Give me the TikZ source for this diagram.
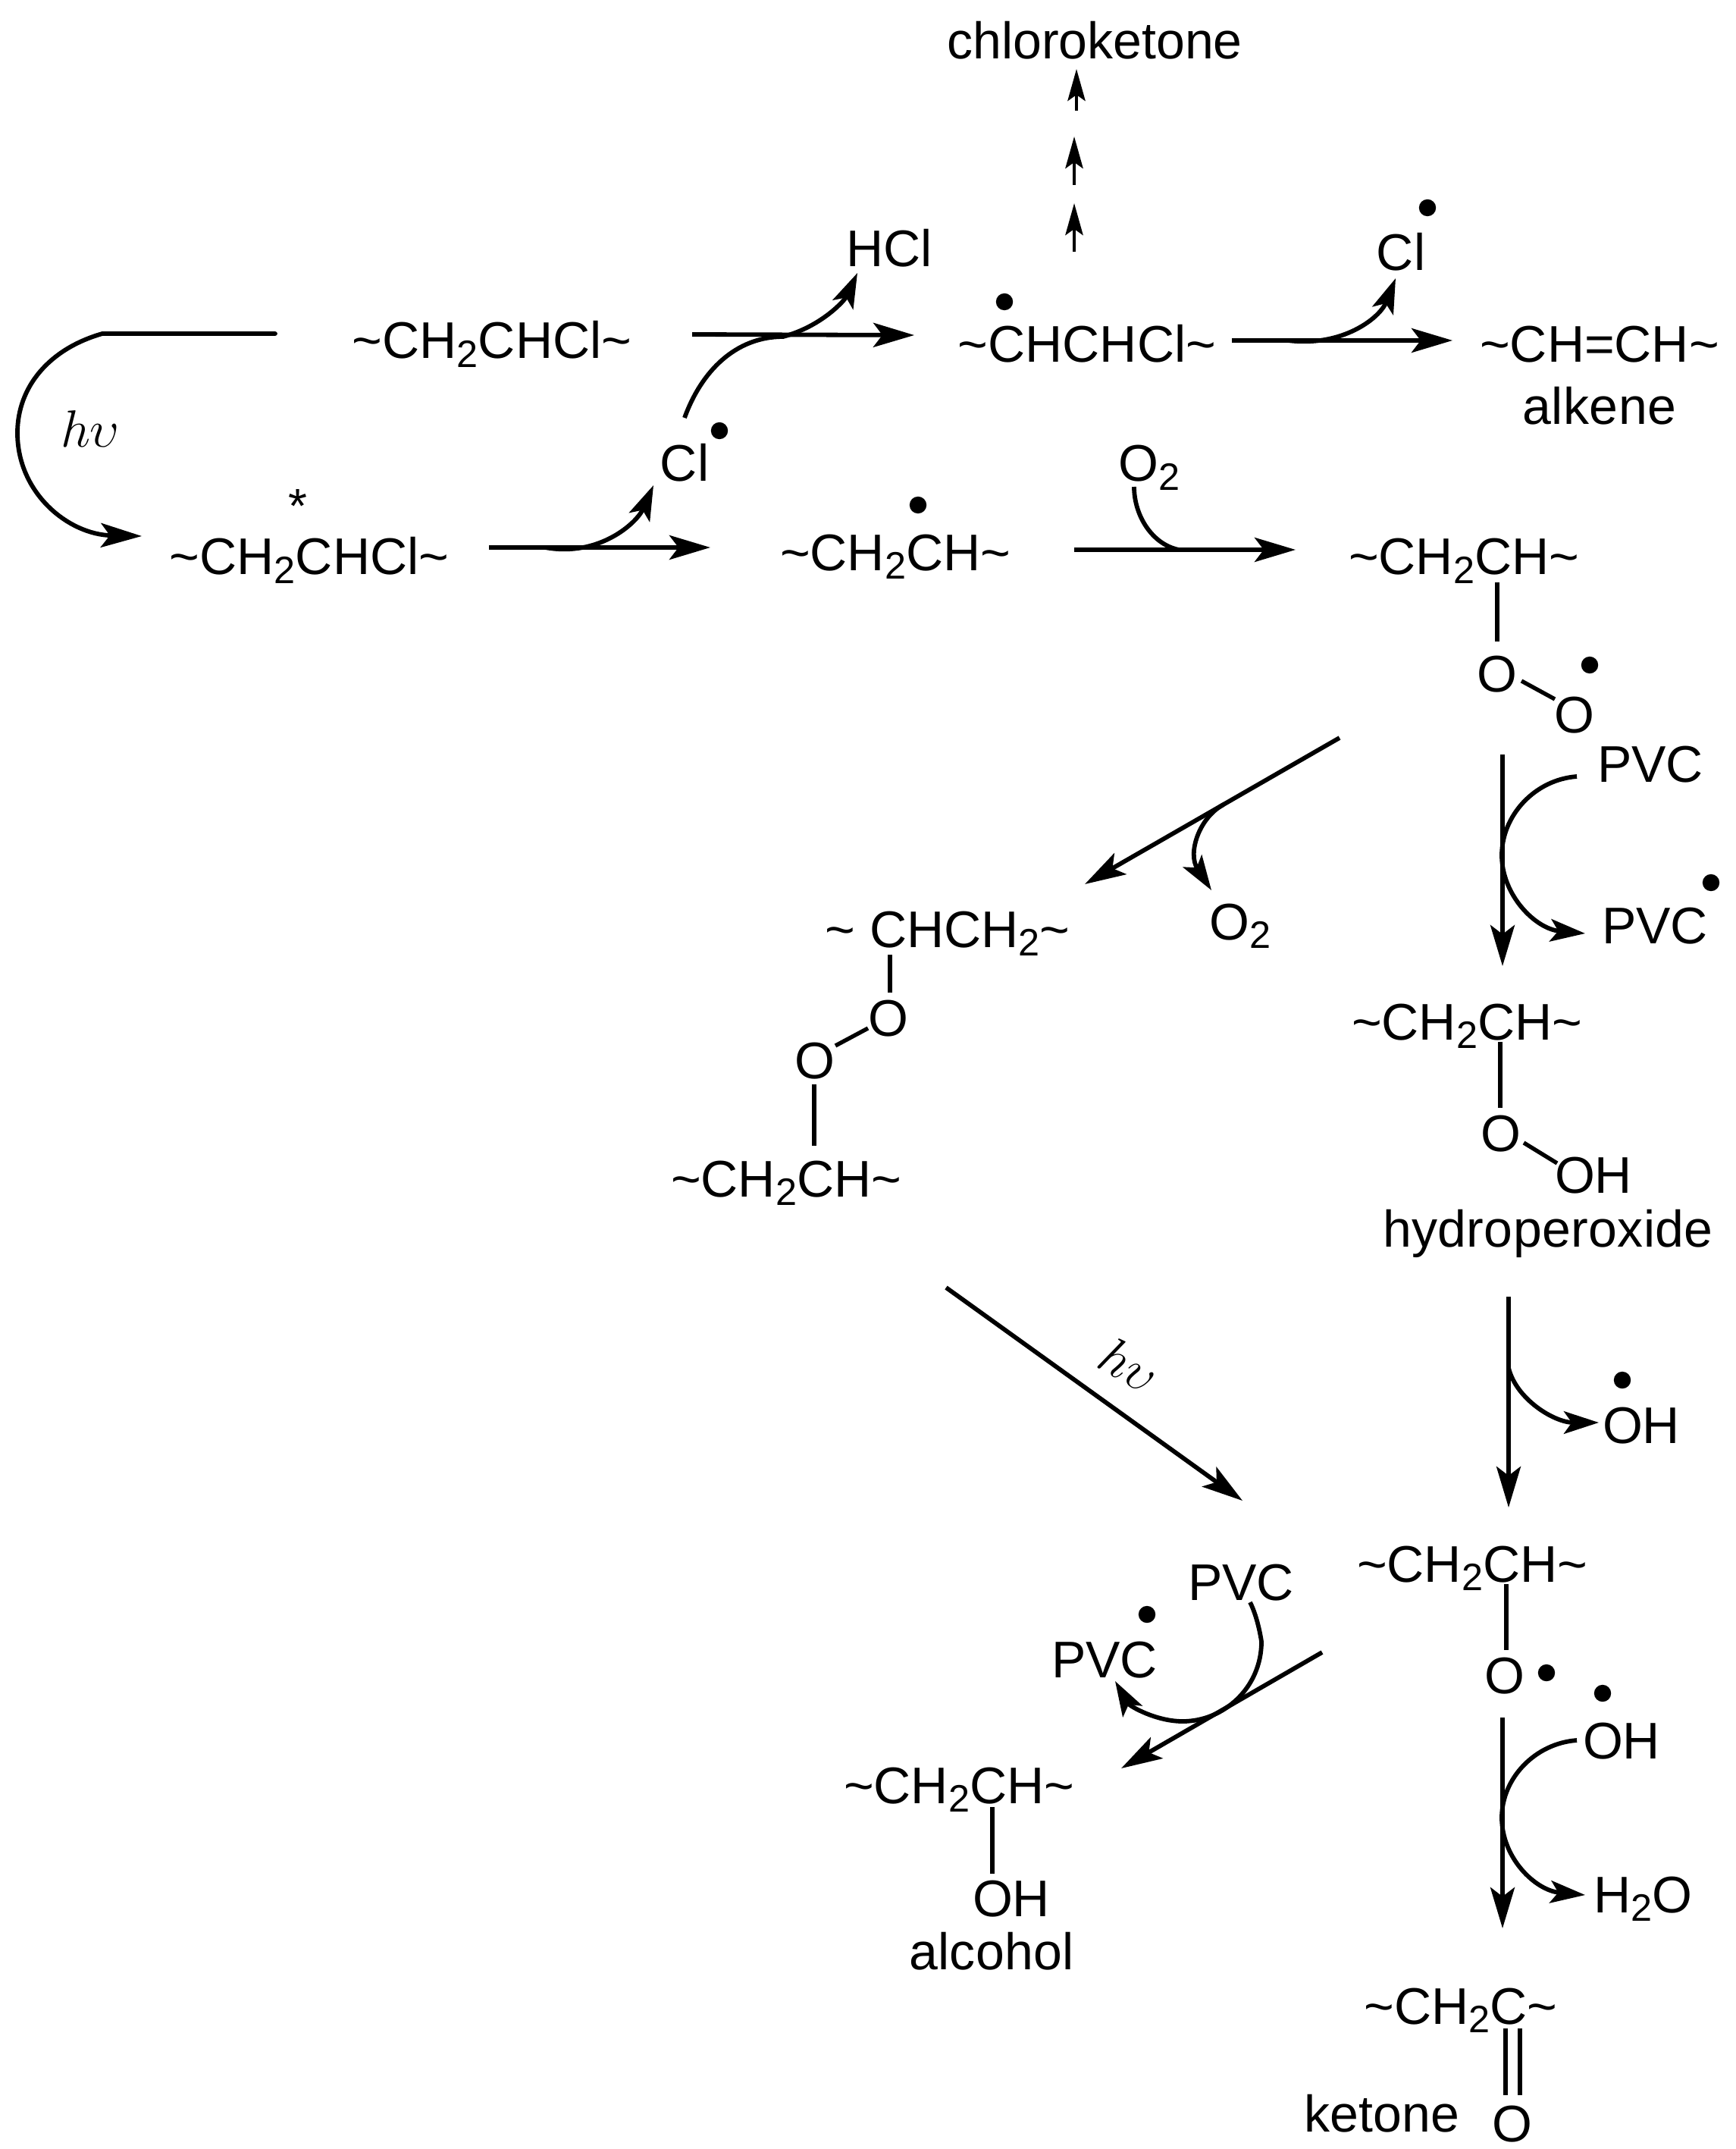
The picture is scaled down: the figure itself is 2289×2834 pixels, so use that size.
\documentclass[tikz,border=0pt]{standalone}
\usepackage{fontspec}
\setmainfont{Liberation Sans}
\usetikzlibrary{arrows.meta}
\newcommand\tld{\char"007E\relax}
\newcommand\sbs{\raisebox{-2.8pt}{\fontsize{12.6}{12}\selectfont 2}}
\newcommand\hvtext{\fontsize{18}{18}\selectfont$h\upsilon$}
\tikzset{
 txt/.style={anchor=base,inner sep=0pt,font=\fontsize{17}{18}\selectfont},
 spc/.style={txt,font=\fontsize{17}{18}\selectfont\addfontfeatures{LetterSpace=0.6}},
 dotn/.style={circle,fill=black,inner sep=0pt,minimum size=5.6pt},
 ln/.style={line width=1.45pt},
 bond/.style={line width=1.35pt},
 bigarr/.style={ln,-{Stealth[length=13.5pt,width=8pt,inset=3pt]}},
 smarr/.style={ln,-{Stealth[length=11.5pt,width=7.4pt,inset=2.6pt]}},
 tinyarr/.style={line width=1.15pt,-{Stealth[length=10.5pt,width=5.8pt,inset=2pt]}},
}
\begin{document}
\begin{tikzpicture}[x=0.25pt,y=-0.25pt]
\useasboundingbox (0,0) rectangle (2289,2834);
% texts
\node[txt] (chk) at (1444,78) {chloroketone};
\node[txt] (hcl) at (1173,352) {HCl};
\node[txt] (m1) at (649,473) {\tld CH\sbs CHCl\tld};
\node[txt] (m2) at (1434,478) {\tld CHCHCl\tld};
\node[txt] (cl3) at (1848,357) {Cl};
\node[txt] (alk) at (2110,478) {\tld CH=CH\tld};
\node[spc] (alkn) at (2110,560) {alkene};
\node[anchor=base,inner sep=0pt] (hv1) at (119,590) {\hvtext};
\node[txt,font=\fontsize{16}{18}\selectfont] (star) at (393,689) {*};
\node[txt] (m3) at (408,758) {\tld CH\sbs CHCl\tld};
\node[txt] (cl1) at (903,635) {Cl};
\node[txt] (m4) at (1181,752) {\tld CH\sbs CH\tld};
\node[txt] (oa) at (1516,635) {O\sbs};
\node[txt] (m5) at (1931,758) {\tld CH\sbs CH\tld};
\node[txt] (o1) at (1975,912) {O};
\node[txt] (o2) at (2077,966) {O};
\node[txt] (pvc1) at (2177,1031) {PVC};
\node[txt] (pvc2) at (2183,1244) {PVC};
\node[txt] (ob) at (1636,1239) {O\sbs};
\node[txt] (m6) at (1250,1249) {\tld{} CHCH\sbs\tld};
\node[txt] (o3) at (1172,1366) {O};
\node[txt] (o4) at (1075,1422) {O};
\node[txt] (m7) at (1037,1578) {\tld CH\sbs CH\tld};
\node[txt] (m8) at (1935,1371) {\tld CH\sbs CH\tld};
\node[txt] (o5) at (1980,1518) {O};
\node[txt] (oh1) at (2102,1573) {OH};
\node[spc] (hpx) at (2042,1644) {hydroperoxide};
\node[anchor=center,inner sep=0pt,rotate=-30] (hv2) at (1490,1800) {\hvtext};
\node[txt] (oh2) at (2165,1903) {OH};
\node[txt] (m9) at (1942,2086) {\tld CH\sbs CH\tld};
\node[txt] (o6) at (1985,2233) {O};
\node[txt] (oh3) at (2139,2319) {OH};
\node[txt] (h2o) at (2167,2522) {H\sbs O};
\node[txt] (pvc3) at (1637,2110) {PVC};
\node[txt] (pvc4) at (1457,2212) {PVC};
\node[txt] (m10) at (1265,2378) {\tld CH\sbs CH\tld};
\node[txt] (oh4) at (1334,2527) {OH};
\node[spc] (alc) at (1308,2597) {alcohol};
\node[txt] (m11) at (1927,2669) {\tld CH\sbs C\tld};
\node[txt] (ket) at (1823,2811) {ketone};
\node[txt] (o7) at (1995,2824) {O};
% radical dots
\node[dotn] (d1) at (949,568) {};
\node[dotn] (d2) at (1325,398) {};
\node[dotn] (d3) at (1883,274) {};
\node[dotn] (d4) at (1211,666) {};
\node[dotn] (d5) at (2097,877) {};
\node[dotn] (d6) at (2257,1164) {};
\node[dotn] (d7) at (2140,1820) {};
\node[dotn] (d8) at (2040,2206) {};
\node[dotn] (d9) at (2114,2233) {};
\node[dotn] (d10) at (1513,2129) {};
% connector end points
\coordinate (a1s) at (363,440); \coordinate (a1b) at (135,440); \coordinate (a1e) at (187,707);
\coordinate (a2s) at (913,441); \coordinate (a2e) at (1206,442);
\coordinate (c2s) at (903,551); \coordinate (c2e) at (1131,360);
\coordinate (a3s) at (645,722); \coordinate (a3e) at (937,722);
\coordinate (c3s) at (719,722); \coordinate (c3e) at (862,640);
\coordinate (a4s) at (1625,449); \coordinate (a4e) at (1916,449);
\coordinate (c4s) at (1699,449); \coordinate (c4e) at (1841,367);
\coordinate (a5s) at (1417,725); \coordinate (a5e) at (1709,725);
\coordinate (c5s) at (1496,642); \coordinate (c5e) at (1555,725);
\coordinate (u1s) at (1420,146); \coordinate (u1e) at (1420,91);
\coordinate (u2s) at (1417,244); \coordinate (u2e) at (1417,180);
\coordinate (u3s) at (1417,332); \coordinate (u3e) at (1417,268);
\coordinate (a6s) at (1767,973); \coordinate (a6e) at (1431,1166);
\coordinate (c6s) at (1614,1061); \coordinate (c6e) at (1598,1174);
\coordinate (a7s) at (1982,995); \coordinate (a7e) at (1982,1274);
\coordinate (c7s) at (2080,1024); \coordinate (c7m) at (1981,1128); \coordinate (c7e) at (2091,1231);
\coordinate (a8s) at (1248,1698); \coordinate (a8e) at (1639,1979);
\coordinate (a9s) at (1990,1710); \coordinate (a9e) at (1990,1988);
\coordinate (c9s) at (1990,1804); \coordinate (c9e) at (2109,1876);
\coordinate (a10s) at (1982,2265); \coordinate (a10e) at (1982,2543);
\coordinate (c10s) at (2080,2295); \coordinate (c10m) at (1981,2397); \coordinate (c10e) at (2091,2499);
\coordinate (a11s) at (1744,2179); \coordinate (a11e) at (1479,2332);
\coordinate (c11s) at (1649,2113); \coordinate (c11m) at (1664,2165); \coordinate (c11b) at (1560,2270); \coordinate (c11e) at (1471,2217);
% arrows
\draw[bigarr,line cap=round] (a1s) -- (a1b) .. controls (65,460) and (23,510) .. (23,571) .. controls (23,650) and (90,705) .. (a1e);
\draw[bigarr] (a2s) -- (a2e);
\draw[smarr] (c2s) .. controls (925,490) and (970,444) .. (1033,444) .. controls (1085,430) and (1115,395) .. (c2e);
\draw[bigarr] (a3s) -- (a3e);
\draw[smarr] (c3s) .. controls (790,735) and (840,690) .. (c3e);
\draw[bigarr] (a4s) -- (a4e);
\draw[smarr] (c4s) .. controls (1770,458) and (1820,420) .. (c4e);
\draw[bigarr] (a5s) -- (a5e);
\draw[ln] (c5s) .. controls (1496,680) and (1520,718) .. (c5e);
\draw[tinyarr] (u1s) -- (u1e);
\draw[tinyarr] (u2s) -- (u2e);
\draw[tinyarr] (u3s) -- (u3e);
\draw[bigarr] (a6s) -- (a6e);
\draw[smarr] (c6s) .. controls (1582,1078) and (1566,1125) .. (c6e);
\draw[bigarr] (a7s) -- (a7e);
\draw[smarr] (c7s) .. controls (2025,1028) and (1981,1075) .. (c7m) .. controls (1981,1180) and (2025,1225) .. (c7e);
\draw[bigarr] (a8s) -- (a8e);
\draw[bigarr] (a9s) -- (a9e);
\draw[smarr] (c9s) .. controls (2000,1845) and (2050,1876) .. (c9e);
\draw[bigarr] (a10s) -- (a10e);
\draw[smarr] (c10s) .. controls (2025,2299) and (1981,2345) .. (c10m) .. controls (1981,2450) and (2025,2493) .. (c10e);
\draw[bigarr] (a11s) -- (a11e);
\draw[smarr] (c11s) .. controls (1660,2135) and (c11m) .. (c11m) .. controls (1664,2225) and (1615,2270) .. (c11b) .. controls (1525,2270) and (1490,2250) .. (c11e);
% bonds
\coordinate (b1a) at (1975,768); \coordinate (b1b) at (1975,846);
\coordinate (b2a) at (2007,898); \coordinate (b2b) at (2051,922);
\coordinate (b3a) at (1174,1259); \coordinate (b3b) at (1174,1309);
\coordinate (b4a) at (1145,1356); \coordinate (b4b) at (1102,1379);
\coordinate (b5a) at (1074,1430); \coordinate (b5b) at (1074,1511);
\coordinate (b6a) at (1979,1374); \coordinate (b6b) at (1979,1461);
\coordinate (b7a) at (2010,1507); \coordinate (b7b) at (2054,1534);
\coordinate (b8a) at (1987,2089); \coordinate (b8b) at (1987,2176);
\coordinate (b9a) at (1309,2383); \coordinate (b9b) at (1309,2471);
\coordinate (b10a) at (1986,2675); \coordinate (b10b) at (1986,2763);
\coordinate (b11a) at (2005,2675); \coordinate (b11b) at (2005,2763);
\foreach \n in {1,...,11} \draw[bond] (b\n a) -- (b\n b);
\end{tikzpicture}
\end{document}
